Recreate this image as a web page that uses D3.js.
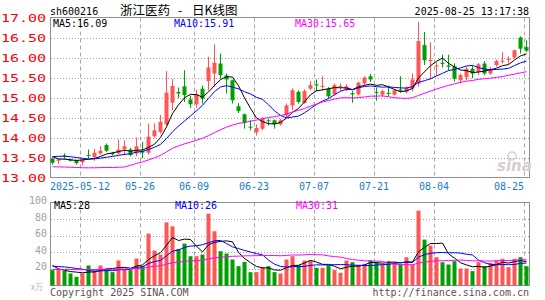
<!DOCTYPE html>
<html>
<head>
<meta charset="utf-8">
<script src="https://cdn.jsdelivr.net/npm/d3@7/dist/d3.min.js"></script>
<style>
body { margin: 0; background: #fff; }
text { font-family: "DejaVu Sans Mono", monospace; }
</style>
</head>
<body>
<div id="chart"></div>
<script>
// trading days shown on the chart
var dates = ["2025-04-30","2025-05-06","2025-05-07","2025-05-08","2025-05-09",
  "2025-05-12","2025-05-13","2025-05-14","2025-05-15","2025-05-16",
  "2025-05-19","2025-05-20","2025-05-21","2025-05-22","2025-05-23",
  "2025-05-26","2025-05-27","2025-05-28","2025-05-29","2025-05-30",
  "2025-06-03","2025-06-04","2025-06-05","2025-06-06",
  "2025-06-09","2025-06-10","2025-06-11","2025-06-12","2025-06-13",
  "2025-06-16","2025-06-17","2025-06-18","2025-06-19","2025-06-20",
  "2025-06-23","2025-06-24","2025-06-25","2025-06-26","2025-06-27",
  "2025-06-30","2025-07-01","2025-07-02","2025-07-03","2025-07-04",
  "2025-07-07","2025-07-08","2025-07-09","2025-07-10","2025-07-11",
  "2025-07-14","2025-07-15","2025-07-16","2025-07-17","2025-07-18",
  "2025-07-21","2025-07-22","2025-07-23","2025-07-24","2025-07-25",
  "2025-07-28","2025-07-29","2025-07-30","2025-07-31","2025-08-01",
  "2025-08-04","2025-08-05","2025-08-06","2025-08-07","2025-08-08",
  "2025-08-11","2025-08-12","2025-08-13","2025-08-14","2025-08-15",
  "2025-08-18","2025-08-19","2025-08-20","2025-08-21","2025-08-22",
  "2025-08-25"];

var open = [13.47,13.42,13.55,13.45,13.43,13.38,13.56,13.51,13.60,13.81,
  13.61,13.60,13.70,13.70,13.60,13.66,13.62,14.03,14.14,14.33,
  14.87,15.14,15.28,14.95,14.83,15.22,15.41,15.60,15.85,15.55,
  15.43,14.78,14.58,14.27,14.13,14.22,14.43,14.43,14.33,14.55,
  14.80,15.14,14.86,15.22,15.33,15.27,15.22,15.08,15.27,15.20,
  15.11,15.08,15.35,15.53,15.14,15.07,15.11,15.07,15.20,15.14,
  15.22,15.35,16.31,15.91,15.78,15.87,15.80,15.78,15.43,15.51,
  15.72,15.64,15.85,15.60,15.81,15.90,15.94,16.00,16.50,16.26];
var high = [13.50,13.48,13.60,13.47,13.45,13.47,13.70,13.72,13.78,13.85,
  13.64,13.95,13.93,13.74,14.00,13.89,14.35,14.35,14.56,15.66,
  15.46,15.25,15.68,15.05,15.20,15.30,16.02,16.33,16.10,15.60,
  15.45,14.86,14.60,14.43,14.33,14.51,14.47,14.45,14.47,14.85,
  15.23,15.18,15.20,15.41,15.45,15.53,15.26,15.35,15.35,15.33,
  15.16,15.40,15.53,15.59,15.25,15.20,15.30,15.22,15.53,15.28,
  15.60,16.89,16.64,16.38,15.88,16.07,16.07,15.85,15.60,15.77,
  15.80,15.86,15.91,15.77,15.95,16.14,16.03,16.20,16.53,16.43];
var low = [13.32,13.34,13.45,13.40,13.32,13.30,13.47,13.42,13.57,13.64,
  13.55,13.57,13.56,13.53,13.53,13.48,13.57,14.00,14.10,14.30,
  14.68,14.98,14.89,14.74,14.74,14.85,15.18,15.27,15.47,15.10,
  14.85,14.61,14.22,14.18,14.05,14.18,14.30,14.22,14.30,14.51,
  14.68,14.85,14.85,15.18,15.16,15.18,14.97,15.05,15.16,15.15,
  14.87,15.05,15.31,15.39,14.92,15.02,15.03,15.05,15.12,15.10,
  15.15,15.27,15.81,15.45,15.55,15.75,15.68,15.40,15.35,15.43,
  15.48,15.56,15.56,15.56,15.77,15.85,15.84,15.97,16.10,16.14];
var close = [13.37,13.45,13.53,13.42,13.36,13.44,13.54,13.62,13.67,13.67,
  13.58,13.70,13.78,13.56,13.78,13.62,14.02,14.18,14.39,15.12,
  15.29,15.10,15.06,14.83,15.08,14.97,15.75,15.87,15.56,15.45,
  14.93,14.66,14.36,14.25,14.24,14.47,14.41,14.33,14.43,14.80,
  15.18,14.89,15.16,15.31,15.30,15.29,15.03,15.31,15.29,15.28,
  15.08,15.37,15.50,15.45,15.12,15.16,15.09,15.18,15.17,15.24,
  15.45,16.41,15.93,15.94,15.80,15.84,15.77,15.47,15.56,15.72,
  15.60,15.83,15.60,15.72,15.91,15.92,15.96,16.18,16.22,16.17];
// volume, 万
var volume = [18.5,19.5,17.5,14.5,10.5,14.5,24.1,18.1,24.1,19.5,
  16.1,30.1,19.5,18.5,32.5,23.5,62.5,42.1,37.3,76.1,
  71.3,44.1,50.5,35.3,35.3,37.3,86.5,65.3,41.3,38.5,
  31.3,23.3,28.5,16.1,16.1,22.1,23.3,16.1,14.5,31.3,
  35.3,24.5,30.1,30.1,21.3,21.3,24.5,18.5,15.3,30.1,
  28.1,24.5,26.1,30.5,28.1,25.3,29.3,28.1,25.3,34.1,
  25.3,90.1,55.3,48.1,34.1,28.1,25.3,29.3,20.5,20.5,
  17.3,28.1,23.3,27.3,30.1,32.1,22.1,32.1,34.1,23.3];

// the 29 sessions before the window, only used to start the moving averages
var prevClose = [13.60,13.62,13.58,13.55,13.60,13.62,13.58,13.55,13.57,13.58,
  13.56,13.55,12.30,12.35,12.50,12.55,12.60,12.55,12.50,12.57,
  13.35,13.50,13.55,13.57,13.62,13.75,13.55,13.50,13.44];
var prevVolume = [18,17,16,19,17,18,16,17,18,17,19,16,17,18,
  17,18,16,18,17,17,24,22,23,21,22.5,40,26,22,14];

var priceTicks = [13, 13.5, 14, 14.5, 15, 15.5, 16, 16.5, 17];
var volumeTicks = [20, 40, 60, 80, 100];
var tickDates = ["2025-05-12","2025-05-26","2025-06-09","2025-06-23",
  "2025-07-07","2025-07-21","2025-08-04","2025-08-25"];
var tickLabels = ["2025-05-12","05-26","06-09","06-23","07-07","07-21","08-04","08-25"];
var priceMaLabels = ["MA5:16.09", "MA10:15.91", "MA30:15.65"];
var volumeMaLabels = ["MA5:28", "MA10:26", "MA30:31"];
var maPeriods = [5, 10, 30];
var maColors = ["#000000", "#0000ff", "#ff00ff"];

var RED = "#ff5555", GREEN = "#00a000";

var svg = d3.select("#chart").append("svg")
    .attr("width", 545)
    .attr("height", 300);

var x = d3.scaleBand().domain(d3.range(dates.length)).range([50, 530]);
var yP = d3.scaleLinear().domain([13, 17]).range([177.5, 17.5]);
var yV = d3.scaleLinear().domain([0, 100]).range([285.5, 202.5]);

function mid(i) { return x(i) + 2.5; }

function movingAverage(prev, values, n) {
    var all = prev.concat(values);
    return values.map(function (v, i) {
        var end = i + prev.length;
        return d3.mean(all.slice(end - n + 1, end + 1));
    });
}

// header
svg.append("text").attr("x", 50).attr("y", 15).attr("font-size", 10).text("sh600216");
var title = svg.append("text").attr("y", 15)
    .style("font-family", "'Noto Sans CJK SC'").attr("font-size", 12.5);
title.append("tspan").attr("x", 120).text("浙江医药");
title.append("tspan").attr("x", 178).text("-");
title.append("tspan").attr("x", 192).text("日K线图");
svg.append("text").attr("x", 529).attr("y", 15).attr("text-anchor", "end")
    .attr("font-size", 10).text("2025-08-25 13:17:38");

// panels: grid + frame
function panel(top, bottom, yScale, ticks) {
    var g = svg.append("g");
    g.selectAll(".hgrid").data(ticks).enter().append("line")
        .attr("x1", 51).attr("x2", 529)
        .attr("y1", function (d) { return Math.round(yScale(d)) + 0.5; })
        .attr("y2", function (d) { return Math.round(yScale(d)) + 0.5; })
        .attr("stroke", "#a0a0a0").attr("stroke-dasharray", "1,2");
    g.selectAll(".vgrid").data(tickDates).enter().append("line")
        .attr("x1", function (d) { return x(dates.indexOf(d)) + 0.5; })
        .attr("x2", function (d) { return x(dates.indexOf(d)) + 0.5; })
        .attr("y1", top).attr("y2", bottom)
        .attr("stroke", "#a8a8a8").attr("stroke-dasharray", "4,3");
    g.append("rect").attr("x", 50.5).attr("y", top).attr("width", 479).attr("height", bottom - top)
        .attr("fill", "none").attr("stroke", "#909090");
}
panel(17.5, 177.5, yP, priceTicks.slice(1, -1));
panel(202.5, 285.5, yV, volumeTicks.slice(0, -1));

// sina watermark
svg.append("circle").attr("cx", 512).attr("cy", 156).attr("r", 4)
    .attr("fill", "none").attr("stroke", "#e2cccc").attr("stroke-width", 1.5);
svg.append("text").attr("x", 497).attr("y", 171)
    .attr("font-size", 15).attr("font-style", "italic").attr("font-weight", "bold")
    .style("font-family", "'DejaVu Sans'")
    .attr("fill", "#d8cccc").text("sina");

// candles
var candles = svg.append("g").selectAll("g").data(dates).enter().append("g");
candles.append("line")
    .attr("x1", function (d, i) { return mid(i); })
    .attr("x2", function (d, i) { return mid(i); })
    .attr("y1", function (d, i) { return yP(high[i]); })
    .attr("y2", function (d, i) { return yP(low[i]); })
    .attr("stroke", function (d, i) { return close[i] >= open[i] ? RED : GREEN; });
candles.append("rect")
    .attr("x", function (d, i) { return x(i) + 0.5; })
    .attr("width", 4)
    .attr("y", function (d, i) { return yP(Math.max(open[i], close[i])); })
    .attr("height", function (d, i) { return Math.max(1, Math.abs(yP(open[i]) - yP(close[i]))); })
    .attr("fill", function (d, i) { return close[i] >= open[i] ? RED : GREEN; });

// volume bars
svg.append("g").selectAll("rect").data(volume).enter().append("rect")
    .attr("x", function (d, i) { return x(i) + 0.5; })
    .attr("width", 4)
    .attr("y", function (d) { return yV(d); })
    .attr("height", function (d) { return yV(0) - yV(d); })
    .attr("fill", function (d, i) { return close[i] >= open[i] ? RED : GREEN; });

// moving averages
maPeriods.forEach(function (n, k) {
    svg.append("path")
        .datum(movingAverage(prevClose, close, n))
        .attr("fill", "none").attr("stroke", maColors[k]).attr("stroke-width", 1)
        .attr("d", d3.line().x(function (d, i) { return mid(i); }).y(function (d) { return yP(d); }));
    svg.append("path")
        .datum(movingAverage(prevVolume, volume, n))
        .attr("fill", "none").attr("stroke", maColors[k]).attr("stroke-width", 1)
        .attr("d", d3.line().x(function (d, i) { return mid(i); }).y(function (d) { return yV(d); }));
});

// MA legends
var legendX = [53, 174, 295];
priceMaLabels.forEach(function (t, k) {
    svg.append("text").attr("x", legendX[k]).attr("y", 27).attr("font-size", 10)
        .attr("fill", maColors[k]).text(t);
});
volumeMaLabels.forEach(function (t, k) {
    svg.append("text").attr("x", legendX[k] + 1).attr("y", 209).attr("font-size", 10)
        .attr("fill", maColors[k]).text(t);
});

// price axis labels
svg.append("g").selectAll("text").data(priceTicks).enter().append("text")
    .attr("x", 46).attr("y", function (d) { return yP(d) + 4; })
    .attr("text-anchor", "end").attr("font-size", 11)
    .attr("textLength", 45).attr("lengthAdjust", "spacingAndGlyphs")
    .attr("fill", "#ff0000")
    .text(function (d) { return d.toFixed(2); });

// volume axis labels
svg.append("g").selectAll("text").data(volumeTicks).enter().append("text")
    .attr("x", 47).attr("y", function (d) { return yV(d) + 1.5; })
    .attr("text-anchor", "end").attr("font-size", 10)
    .attr("fill", "#a0a0a0")
    .text(function (d) { return d; });
svg.append("text").attr("x", 43).attr("y", 290).attr("text-anchor", "end")
    .style("font-family", "'Noto Sans CJK SC'").attr("font-size", 8)
    .attr("fill", "#b0b0b0").text("x万");

// date labels
svg.append("g").selectAll("text").data(tickDates).enter().append("text")
    .attr("y", 189.5).attr("font-size", 10).attr("fill", "#1a7ccc")
    .text(function (d, k) { return tickLabels[k]; })
    .each(function (d) {
        var w = this.getComputedTextLength();
        var cx = x(dates.indexOf(d));
        var left = Math.min(cx - w / 2, 524 - w);
        d3.select(this).attr("x", left);
    });

// footer
svg.append("text").attr("x", 50).attr("y", 296).attr("font-size", 10)
    .attr("fill", "#555").text("Copyright 2025 SINA.COM");
svg.append("text").attr("x", 529).attr("y", 296).attr("text-anchor", "end")
    .attr("font-size", 10).attr("fill", "#555").text("http://finance.sina.com.cn");
</script>
</body>
</html>
